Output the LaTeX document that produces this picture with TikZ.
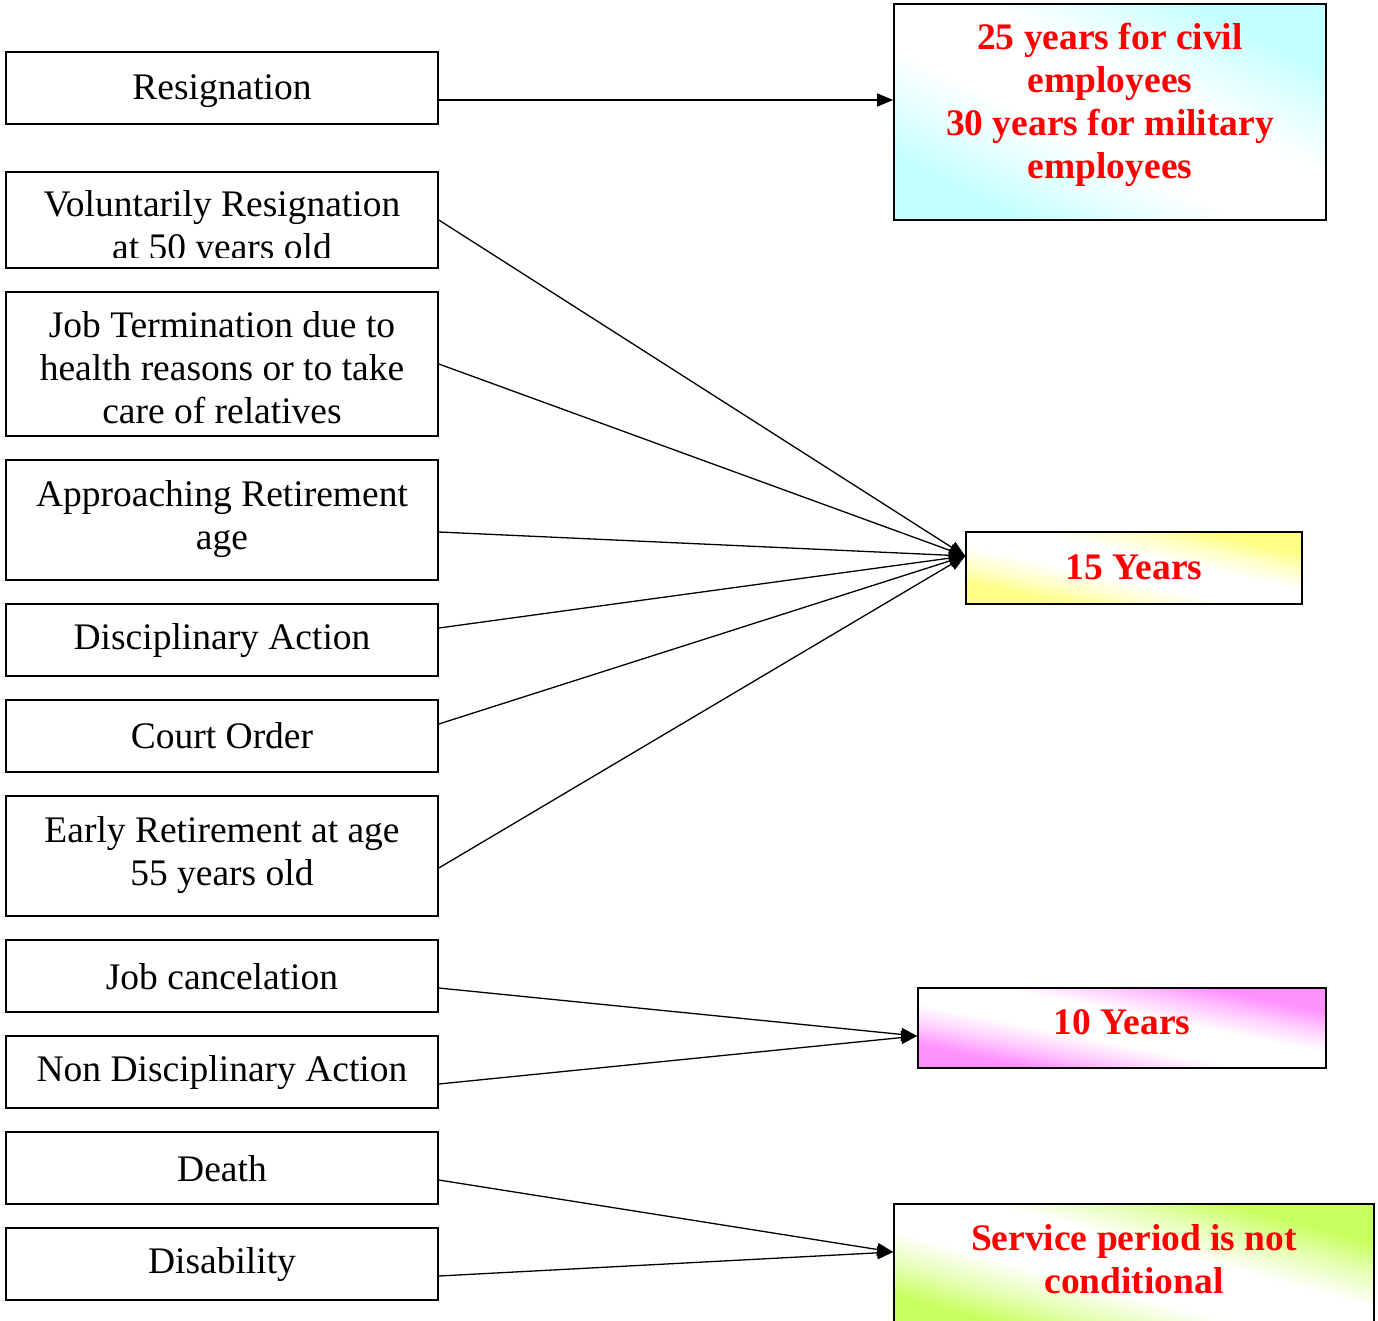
\documentclass[tikz,border=0pt]{standalone}
\usepackage{fontspec}
\setmainfont{Liberation Serif}
\usetikzlibrary{arrows.meta,calc}
\definecolor{cyanl}{RGB}{195,255,255}
\definecolor{yell}{RGB}{255,255,135}
\definecolor{magl}{RGB}{255,145,255}
\definecolor{grnl}{RGB}{200,255,95}
\colorlet{cyanm}{cyanl!50!white}
\colorlet{yelm}{yell!50!white}
\colorlet{magm}{magl!50!white}
\colorlet{grnm}{grnl!50!white}
\pgfdeclareverticalshading{shcyan}{100bp}{color(0bp)=(cyanl); color(25bp)=(cyanl); color(33bp)=(cyanm); color(43bp)=(white); color(57bp)=(white); color(67bp)=(cyanm); color(75bp)=(cyanl); color(100bp)=(cyanl)}
\pgfdeclareverticalshading{shyel}{100bp}{color(0bp)=(yell); color(25bp)=(yell); color(33bp)=(yelm); color(43bp)=(white); color(57bp)=(white); color(67bp)=(yelm); color(75bp)=(yell); color(100bp)=(yell)}
\pgfdeclareverticalshading{shmag}{100bp}{color(0bp)=(magl); color(25bp)=(magl); color(33bp)=(magm); color(43bp)=(white); color(57bp)=(white); color(67bp)=(magm); color(75bp)=(magl); color(100bp)=(magl)}
\pgfdeclareverticalshading{shgrn}{100bp}{color(0bp)=(grnl); color(25bp)=(grnl); color(33bp)=(grnm); color(43bp)=(white); color(57bp)=(white); color(67bp)=(grnm); color(75bp)=(grnl); color(100bp)=(grnl)}
\begin{document}
\begin{tikzpicture}[x=1pt,y=-1pt,
 lframe/.style={draw, line width=1.6pt, minimum width=432pt, inner sep=0pt},
 ltext/.style={align=center, font=\fontsize{37.5}{43}\selectfont, inner sep=0pt},
 rbox/.style={draw, line width=1.6pt, inner sep=0pt},
 rtext/.style={align=center, text=red, font=\fontsize{37.5}{43}\selectfont\bfseries, inner sep=0pt},
 conn/.style={line width=1.3pt, -{Triangle[length=16pt,width=13pt]}},
 diag/.style={shading=#1, shading angle=-45}
]
\useasboundingbox (0,0) rectangle (1378,1321);
% left boxes
\node[lframe, minimum height=72pt] (b1) at (222,88) {};
\node[ltext] (b1t) at (222,91) {Resignation};
\node[lframe, minimum height=96pt] (b2) at (222,220) {};
\begin{scope}
\clip (6,173) rectangle (438,258);
\node[ltext] (b2t) at (222,229) {Voluntarily Resignation\\at 50 years old};
\end{scope}
\node[lframe, minimum height=144pt] (b3) at (222,364) {};
\node[ltext] (b3t) at (222,368) {Job Termination due to\\health reasons or to take\\care of relatives};
\node[lframe, minimum height=120pt] (b4) at (222,520) {};
\node[ltext] (b4t) at (222,519) {Approaching Retirement\\age};
\node[lframe, minimum height=72pt] (b5) at (222,640) {};
\node[ltext] (b5t) at (222,641) {Disciplinary Action};
\node[lframe, minimum height=72pt] (b6) at (222,736) {};
\node[ltext] (b6t) at (222,736) {Court Order};
\node[lframe, minimum height=120pt] (b7) at (222,856) {};
\node[ltext] (b7t) at (222,855) {Early Retirement at age\\55 years old};
\node[lframe, minimum height=72pt] (b8) at (222,976) {};
\node[ltext] (b8t) at (222,977) {Job cancelation};
\node[lframe, minimum height=72pt] (b9) at (222,1072) {};
\node[ltext] (b9t) at (222,1073) {Non Disciplinary Action};
\node[lframe, minimum height=72pt] (b10) at (222,1168) {};
\node[ltext] (b10t) at (222,1169) {Death};
\node[lframe, minimum height=72pt] (b11) at (222,1264) {};
\node[ltext] (b11t) at (222,1265) {Disability};
% shaded fills (stretched so the white band follows the box diagonal)
\shade[diag=shcyan, transform canvas={shift={(1110,112)}, xscale=432/216}] (-108,-108) rectangle (108,108);
\shade[diag=shyel, transform canvas={shift={(1134,568)}, xscale=336/72}] (-36,-36) rectangle (36,36);
\shade[diag=shmag, transform canvas={shift={(1122,1028)}, xscale=408/80}] (-40,-40) rectangle (40,40);
\shade[diag=shgrn, transform canvas={shift={(1134,1269)}, xscale=480/130}] (-65,-65) rectangle (65,65);
% right boxes
\node[rbox, minimum width=432pt, minimum height=216pt] (rA) at (1110,112) {};
\node[rtext] (rAt) at (1110,105) {25 years for civil\\employees\\30 years for military\\employees};
\node[rbox, minimum width=336pt, minimum height=72pt] (rB) at (1134,568) {};
\node[rtext] (rBt) at (1134,567) {15 Years};
\node[rbox, minimum width=408pt, minimum height=80pt] (rC) at (1122,1028) {};
\node[rtext] (rCt) at (1122,1022) {10 Years};
\node[rbox, minimum width=480pt, minimum height=130pt] (rD) at (1134,1269) {};
\node[rtext] (rDt) at (1134,1259) {Service period is not\\conditional};
% connectors
\draw[conn] ($(b1.east)+(0,12)$) -- ($(rA.west)+(0,-12)$);
\coordinate (tB) at ($(rB.west)+(0,-12)$);
\draw[conn] (b2.east) -- (tB);
\draw[conn] (b3.east) -- (tB);
\draw[conn] ($(b4.east)+(0,12)$) -- (tB);
\draw[conn] ($(b5.east)+(0,-12)$) -- (tB);
\draw[conn] ($(b6.east)+(0,-12)$) -- (tB);
\draw[conn] ($(b7.east)+(0,12)$) -- (tB);
\coordinate (tC) at ($(rC.west)+(0,8)$);
\draw[conn] ($(b8.east)+(0,12)$) -- (tC);
\draw[conn] ($(b9.east)+(0,12)$) -- (tC);
\coordinate (tD) at ($(rD.west)+(0,-17)$);
\draw[conn] ($(b10.east)+(0,12)$) -- (tD);
\draw[conn] ($(b11.east)+(0,12)$) -- (tD);
\end{tikzpicture}
\end{document}
